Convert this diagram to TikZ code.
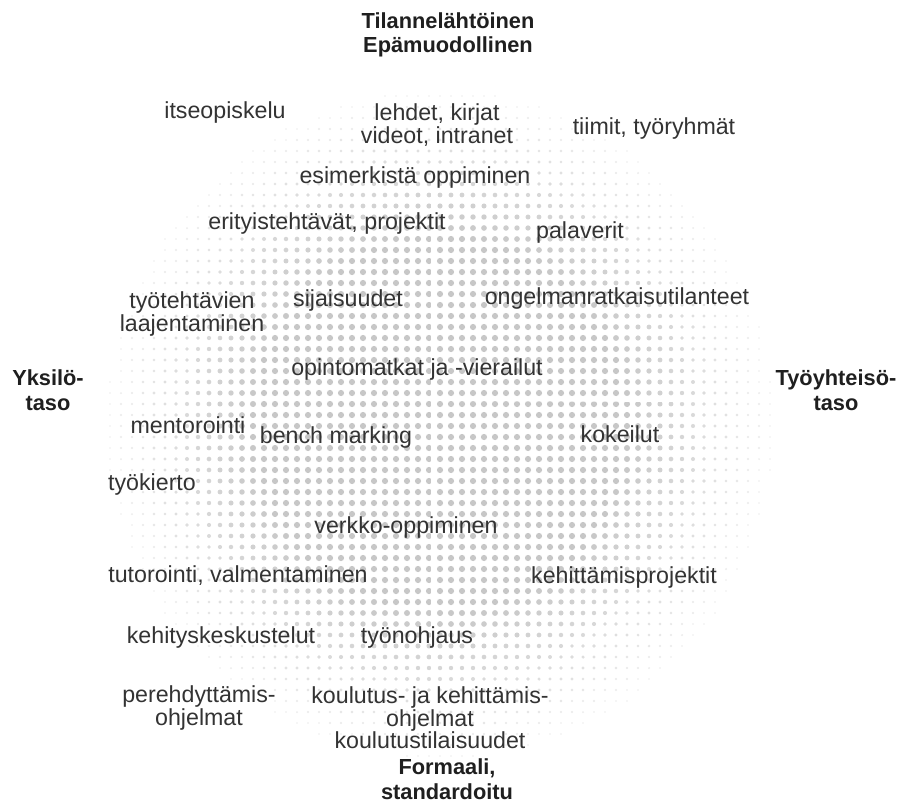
\documentclass[tikz,border=0pt]{standalone}
\usepackage{fontspec}
\setmainfont{Liberation Sans}
\usetikzlibrary{calc}

\tikzset{
  item/.style={text=black!80, font=\fontsize{16.5}{16}\selectfont, inner sep=0pt, align=center},
  axislabel/.style={text=black!88, font=\bfseries\fontsize{15.5}{17.5}\selectfont, inner sep=0pt, align=center},
  crossline/.style={white, line width=2pt}
}

\begin{document}
\begin{tikzpicture}[x=0.025cm, y=-0.025cm]
			%%%%% START %%%%%
			
			\fill[white] (0,0) rectangle (904,803);
			\useasboundingbox (0,0) rectangle (904,803);
			
			% halftone disc
			\foreach \gx in {110,121,...,780}{
				\foreach \gy in {85,96,...,770}{
					\pgfmathsetmacro\dd{veclen((\gx-440)/100,(\gy-425)/100)/3.4}
					\pgfmathsetmacro\ff{min(1,max(0,(1-\dd)*2.2))}
					\ifdim\ff pt>0.04pt
						\pgfmathsetmacro\rr{0.7+2.4*\ff}
						\pgfmathsetmacro\cc{6+16*\ff}
						\fill[black!\cc] (\gx,\gy) circle[radius=\rr];
					\fi
				}
			}
			
			\draw[crossline] (432, 120) -- (432, 730);
			\draw[crossline] (110, 398) -- (770, 401);
			
			% axes
			\node[axislabel] (top) at (448, 35) {Tilannelähtöinen\\Epämuodollinen};
			\node[axislabel] (bottom) at (447, 779) {Formaali,\\standardoitu};
			\node[axislabel] (left) at (48, 390) {Yksilö-\\taso};
			\node[axislabel] (right) at (836, 390) {Työyhteisö-\\taso};
			
			% methods
			\node[item] (itseop) at (225, 112) {itseopiskelu};
			\node[item] (lehdet) at (437, 125) {lehdet, kirjat\\videot, intranet};
			\node[item] (tiimit) at (654, 128) {tiimit, työryhmät};
			\node[item] (esim) at (415, 177) {esimerkistä oppiminen};
			\node[item] (erit) at (327, 223) {erityistehtävät, projektit};
			\node[item] (palav) at (580, 232) {palaverit};
			\node[item] (tyoteht) at (192, 314) {työtehtävien\\laajentaminen};
			\node[item] (sijais) at (348, 300) {sijaisuudet};
			\node[item] (ongel) at (617, 298) {ongelmanratkaisutilanteet};
			\node[item] (opinto) at (417, 369) {opintomatkat ja -vierailut};
			\node[item] (mentor) at (188, 425) {mentorointi};
			\node[item] (bench) at (336, 437) {bench marking};
			\node[item] (kokeil) at (620, 434) {kokeilut};
			\node[item] (kierto) at (152, 484) {työkierto};
			\node[item] (verkko) at (406, 527) {verkko-oppiminen};
			\node[item] (tutor) at (238, 576) {tutorointi, valmentaminen};
			\node[item] (kehproj) at (624, 577) {kehittämisprojektit};
			\node[item] (kehkesk) at (221, 637) {kehityskeskustelut};
			\node[item] (tyonoh) at (417, 637) {työnohjaus};
			\node[item] (pereh) at (199, 708) {perehdyttämis-\\ohjelmat};
			\node[item] (koulut) at (430, 718) {koulutus- ja kehittämis-\\ohjelmat\\koulutustilaisuudet};
			
			%%%%% END %%%%%
\end{tikzpicture}
\end{document}
